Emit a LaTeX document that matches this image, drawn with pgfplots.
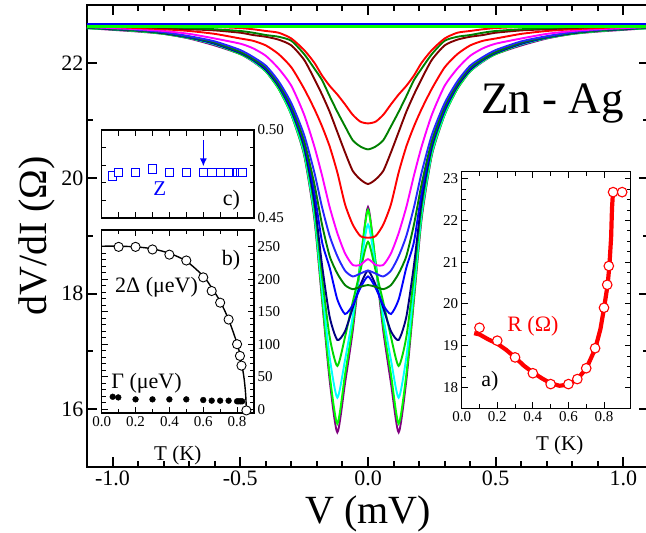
\documentclass[border=0pt]{standalone}
\usepackage{fontspec}
\setmainfont{Liberation Serif}
\usepackage{pgfplots}
\usepackage{pgfplotstable}
\pgfplotsset{compat=1.18}
\usetikzlibrary{arrows.meta}

\definecolor{cPurple}{RGB}{128,0,128}
\definecolor{cLime}{RGB}{0,255,0}
\definecolor{cCyan}{RGB}{0,255,255}
\definecolor{cNavy}{RGB}{0,0,128}
\definecolor{cBlue}{RGB}{0,0,255}
\definecolor{cDkGreen}{RGB}{0,128,0}
\definecolor{cMagenta}{RGB}{255,0,255}
\definecolor{cRed}{RGB}{255,0,0}
\definecolor{cMaroon}{RGB}{128,0,0}

% dV/dI (Ohm) vs V (mV), lowest temperature first
\pgfplotstableread{
V A B C D E F G H I J K L M
-1.10 22.60 22.60 22.60 22.60 22.61 22.61 22.61 22.62 22.62 22.63 22.64 22.65 22.67
-1.00 22.57 22.58 22.58 22.58 22.58 22.59 22.59 22.60 22.60 22.62 22.63 22.64 22.66
-0.90 22.54 22.55 22.55 22.55 22.56 22.56 22.56 22.57 22.58 22.60 22.62 22.63 22.65
-0.80 22.50 22.50 22.51 22.51 22.51 22.52 22.52 22.53 22.55 22.58 22.60 22.62 22.64
-0.70 22.42 22.43 22.43 22.43 22.44 22.44 22.45 22.46 22.50 22.55 22.58 22.60 22.63
-0.60 22.30 22.32 22.32 22.33 22.33 22.34 22.35 22.37 22.42 22.50 22.56 22.58 22.62
-0.50 22.15 22.15 22.16 22.16 22.17 22.18 22.19 22.22 22.33 22.42 22.52 22.55 22.60
-0.45 22.02 22.03 22.03 22.04 22.05 22.06 22.07 22.10 22.25 22.38 22.48 22.52 22.58
-0.40 21.85 21.85 21.86 21.87 21.88 21.90 21.92 21.95 22.12 22.30 22.45 22.48 22.55
-0.35 21.55 21.55 21.57 21.58 21.60 21.62 21.64 21.68 21.90 22.15 22.40 22.45 22.52
-0.30 21.10 21.10 21.12 21.15 21.18 21.20 21.25 21.30 21.60 21.92 22.30 22.38 22.42
-0.25 20.40 20.42 20.45 20.50 20.55 20.60 20.65 20.75 21.10 21.55 22.05 22.15 22.22
-0.21 19.30 19.35 19.40 19.50 19.60 19.75 19.90 20.10 20.55 21.20 21.72 21.90 22.00
-0.18 17.90 17.95 18.10 18.30 18.50 18.90 19.20 19.50 20.05 20.90 21.45 21.70 21.78
-0.15 16.50 16.60 16.90 17.25 17.60 18.45 18.65 19.00 19.50 20.55 21.15 21.42 21.60
-0.12 15.60 15.75 16.20 16.75 17.20 17.90 18.35 18.65 19.05 20.10 20.80 21.15 21.45
-0.09 16.45 16.60 16.85 17.25 17.35 17.65 18.15 18.40 18.70 19.55 20.45 20.90 21.28
-0.06 17.35 17.45 17.60 17.85 17.75 17.80 18.08 18.30 18.50 19.20 20.13 20.66 21.10
-0.03 18.50 18.55 18.45 18.40 18.15 18.10 18.12 18.35 18.50 19.00 19.98 20.55 20.98
 0.00 19.50 19.45 19.20 18.90 18.40 18.30 18.15 18.40 18.60 18.97 19.90 20.50 20.95
 0.03 18.50 18.55 18.45 18.40 18.15 18.10 18.12 18.35 18.50 19.00 19.98 20.55 20.98
 0.06 17.35 17.45 17.60 17.85 17.75 17.80 18.08 18.30 18.50 19.20 20.13 20.66 21.10
 0.09 16.45 16.60 16.85 17.25 17.35 17.65 18.15 18.40 18.70 19.55 20.45 20.90 21.28
 0.12 15.60 15.75 16.20 16.75 17.20 17.90 18.35 18.65 19.05 20.10 20.80 21.15 21.45
 0.15 16.50 16.60 16.90 17.25 17.60 18.45 18.65 19.00 19.50 20.55 21.15 21.42 21.60
 0.18 17.90 17.95 18.10 18.30 18.50 18.90 19.20 19.50 20.05 20.90 21.45 21.70 21.78
 0.21 19.30 19.35 19.40 19.50 19.60 19.75 19.90 20.10 20.55 21.20 21.72 21.90 22.00
 0.25 20.40 20.42 20.45 20.50 20.55 20.60 20.65 20.75 21.10 21.55 22.05 22.15 22.22
 0.30 21.10 21.10 21.12 21.15 21.18 21.20 21.25 21.30 21.60 21.92 22.30 22.38 22.42
 0.35 21.55 21.55 21.57 21.58 21.60 21.62 21.64 21.68 21.90 22.15 22.40 22.45 22.52
 0.40 21.85 21.85 21.86 21.87 21.88 21.90 21.92 21.95 22.12 22.30 22.45 22.48 22.55
 0.45 22.02 22.03 22.03 22.04 22.05 22.06 22.07 22.10 22.25 22.38 22.48 22.52 22.58
 0.50 22.15 22.15 22.16 22.16 22.17 22.18 22.19 22.22 22.33 22.42 22.52 22.55 22.60
 0.60 22.30 22.32 22.32 22.33 22.33 22.34 22.35 22.37 22.42 22.50 22.56 22.58 22.62
 0.70 22.42 22.43 22.43 22.43 22.44 22.44 22.45 22.46 22.50 22.55 22.58 22.60 22.63
 0.80 22.50 22.50 22.51 22.51 22.51 22.52 22.52 22.53 22.55 22.58 22.60 22.62 22.64
 0.90 22.54 22.55 22.55 22.55 22.56 22.56 22.56 22.57 22.58 22.60 22.62 22.63 22.65
 1.00 22.57 22.58 22.58 22.58 22.58 22.59 22.59 22.60 22.60 22.62 22.63 22.64 22.66
 1.10 22.60 22.60 22.60 22.60 22.61 22.61 22.61 22.62 22.62 22.63 22.64 22.65 22.67
}\dips

\pgfplotsset{
  inset/.style={
    anchor=south west, scale only axis, clip=false,
    tick align=inside,
    major tick length=6pt, minor tick length=4pt,
    axis line style={line width=1.4pt},
    every tick/.style={black, line width=1pt},
    tick label style={font=\rmfamily\fontsize{15}{18}\selectfont},
    /pgf/number format/assume math mode=true,
  },
}

\begin{document}
\begin{tikzpicture}[x=1pt,y=1pt]
\useasboundingbox (0,0) rectangle (646,533);

% main panel
\begin{axis}[
  at={(87pt,66pt)}, anchor=south west, scale only axis,
  width=562pt, height=462pt,
  xmin=-1.1, xmax=1.1, ymin=15, ymax=23,
  xtick={-1,-0.5,0,0.5,1}, minor x tick num=4,
  ytick={16,18,20,22}, minor y tick num=1,
  tick align=inside,
  major tick length=10pt, minor tick length=6pt,
  axis line style={line width=2.4pt},
  every tick/.style={black, line width=2pt},
  tick label style={font=\rmfamily\fontsize{22}{26}\selectfont},
  xticklabel style={/pgf/number format/.cd, fixed, fixed zerofill, precision=1},
  /pgf/number format/assume math mode=true,
  xlabel={V (mV)}, ylabel={dV/dI (Ω)},
  label style={font=\rmfamily\fontsize{40}{44}\selectfont},
  xlabel style={yshift=-3pt},
  every axis plot/.append style={line width=1.9pt, smooth, tension=0.4},
]
\addplot[cPurple]  table[x=V,y=A]{\dips};
\addplot[cLime]    table[x=V,y=B]{\dips};
\addplot[cCyan]    table[x=V,y=C]{\dips};
\addplot[cLime!85!black] table[x=V,y=D]{\dips};
\addplot[cNavy]    table[x=V,y=E]{\dips};
\addplot[cBlue]    table[x=V,y=F]{\dips};
\addplot[cDkGreen] table[x=V,y=G]{\dips};
\addplot[cBlue!85!white] table[x=V,y=H]{\dips};
\addplot[cMagenta] table[x=V,y=I]{\dips};
\addplot[cRed]     table[x=V,y=J]{\dips};
\addplot[cMaroon]  table[x=V,y=K]{\dips};
\addplot[cDkGreen] table[x=V,y=L]{\dips};
\addplot[cRed]     table[x=V,y=M]{\dips};
\addplot[cLime, line width=2.6pt]  coordinates {(-1.1,22.63) (1.1,22.63)};
\addplot[cBlue, line width=2.6pt]  coordinates {(-1.1,22.67) (1.1,22.67)};
\node[font=\rmfamily\fontsize{45}{50}\selectfont] at (axis cs:0.722,21.3) {Zn - Ag};
\end{axis}

% inset c): Z
\begin{axis}[inset,
  at={(101.7pt,315pt)}, width=152.5pt, height=88pt,
  xmin=0, xmax=0.9, ymin=0.45, ymax=0.50,
  xtick={0,0.1,...,0.9}, xticklabels={},
  ytick={0.45,0.50}, minor y tick num=4,
  yticklabel pos=right,
  yticklabel style={/pgf/number format/.cd, fixed, fixed zerofill, precision=2},
]
\addplot[only marks, mark=square*, mark size=4.2pt,
  mark options={fill=white, draw=cBlue, line width=1pt}] coordinates {
  (0.064,0.4739) (0.10,0.4760) (0.20,0.4760) (0.30,0.4778) (0.40,0.4757)
  (0.50,0.4757) (0.60,0.4757) (0.65,0.4757) (0.70,0.4757) (0.75,0.4757)
  (0.80,0.4757) (0.82,0.4757) (0.83,0.4757)};
\draw[cBlue, line width=1.4pt, -{Latex[length=8pt,width=7pt]}]
  (axis cs:0.6,0.4943) -- (axis cs:0.6,0.4793);
\node[text=cBlue, font=\rmfamily\fontsize{21}{24}\selectfont] at (axis cs:0.343,0.4665) {Z};
\node[font=\rmfamily\fontsize{22}{26}\selectfont] at (axis cs:0.765,0.4602) {c)};
\end{axis}

% inset b): gap and broadening
\begin{axis}[inset,
  at={(101.7pt,120pt)}, width=152.3pt, height=183pt,
  xmin=0, xmax=0.9, ymin=-6, ymax=276,
  xtick={0,0.2,...,0.8}, minor x tick num=1,
  ytick={0,50,...,250}, minor y tick num=4,
  yticklabel pos=right,
  xticklabel style={/pgf/number format/.cd, fixed, fixed zerofill, precision=1},
]
\addplot[black, line width=1.4pt, smooth, tension=0.5] coordinates {
  (0.0,251) (0.1,251) (0.2,250) (0.3,247) (0.4,240) (0.5,228) (0.6,205)
  (0.65,187) (0.7,166) (0.75,138) (0.8,101) (0.82,80) (0.84,50) (0.85,25) (0.855,0)};
\addplot[only marks, mark=*, mark size=4.6pt,
  mark options={fill=white, draw=black, line width=0.9pt}] coordinates {
  (0.1,250) (0.2,250) (0.3,246) (0.4,238) (0.5,229) (0.6,203) (0.65,182)
  (0.7,164) (0.75,138) (0.8,100) (0.817,82) (0.826,67) (0.855,-2)};
\addplot[only marks, mark=*, mark size=2.9pt, black] coordinates {
  (0.065,19) (0.098,18) (0.2,15) (0.3,15) (0.4,15) (0.5,15) (0.6,14)
  (0.65,13) (0.7,13) (0.75,13) (0.8,12) (0.81,12) (0.82,12) (0.83,12)};
\node[font=\rmfamily\fontsize{22}{26}\selectfont] at (axis cs:0.324,188) {2Δ (μeV)};
\node[font=\rmfamily\fontsize{22}{26}\selectfont] at (axis cs:0.265,40) {Γ (μeV)};
\node[font=\rmfamily\fontsize{22}{26}\selectfont] at (axis cs:0.765,230) {b)};
\node[font=\rmfamily\fontsize{21}{24}\selectfont] at (axis description cs:0.5,-0.23) {T (K)};
\end{axis}

% inset a): resistance
\begin{axis}[inset,
  at={(461.7pt,124.7pt)}, width=169pt, height=236.6pt,
  xmin=0, xmax=0.95, ymin=17.5, ymax=23.17,
  xtick={0,0.2,...,0.8}, minor x tick num=1,
  ytick={18,...,23}, minor y tick num=3,
  xticklabel style={/pgf/number format/.cd, fixed, fixed zerofill, precision=1},
]
\addplot[cRed, line width=4.2pt] coordinates {
  (0.07,19.30) (0.10,19.27) (0.15,19.15) (0.20,19.05) (0.25,18.90)
  (0.30,18.72) (0.35,18.52) (0.40,18.36) (0.45,18.22) (0.50,18.10)
  (0.55,18.04) (0.60,18.07) (0.65,18.20) (0.70,18.45) (0.75,18.92)
  (0.78,19.40) (0.80,19.90) (0.82,20.45) (0.83,20.90) (0.84,21.60)
  (0.845,22.30) (0.85,22.65) (0.87,22.68)};
\addplot[only marks, mark=*, mark size=4.8pt,
  mark options={fill=white, draw=cRed, line width=1.1pt}] coordinates {
  (0.10,19.43) (0.20,19.12) (0.30,18.72) (0.40,18.34) (0.50,18.08)
  (0.60,18.08) (0.65,18.20) (0.70,18.46) (0.75,18.94) (0.80,19.91)
  (0.818,20.46) (0.827,20.91) (0.851,22.68) (0.902,22.68)};
\node[text=cRed, font=\rmfamily\fontsize{22}{26}\selectfont] at (axis cs:0.40,19.46) {R (Ω)};
\node[font=\rmfamily\fontsize{22}{26}\selectfont] at (axis cs:0.159,18.14) {a)};
\node[font=\rmfamily\fontsize{21}{24}\selectfont] at (axis description cs:0.58,-0.155) {T (K)};
\end{axis}
\end{tikzpicture}
\end{document}
